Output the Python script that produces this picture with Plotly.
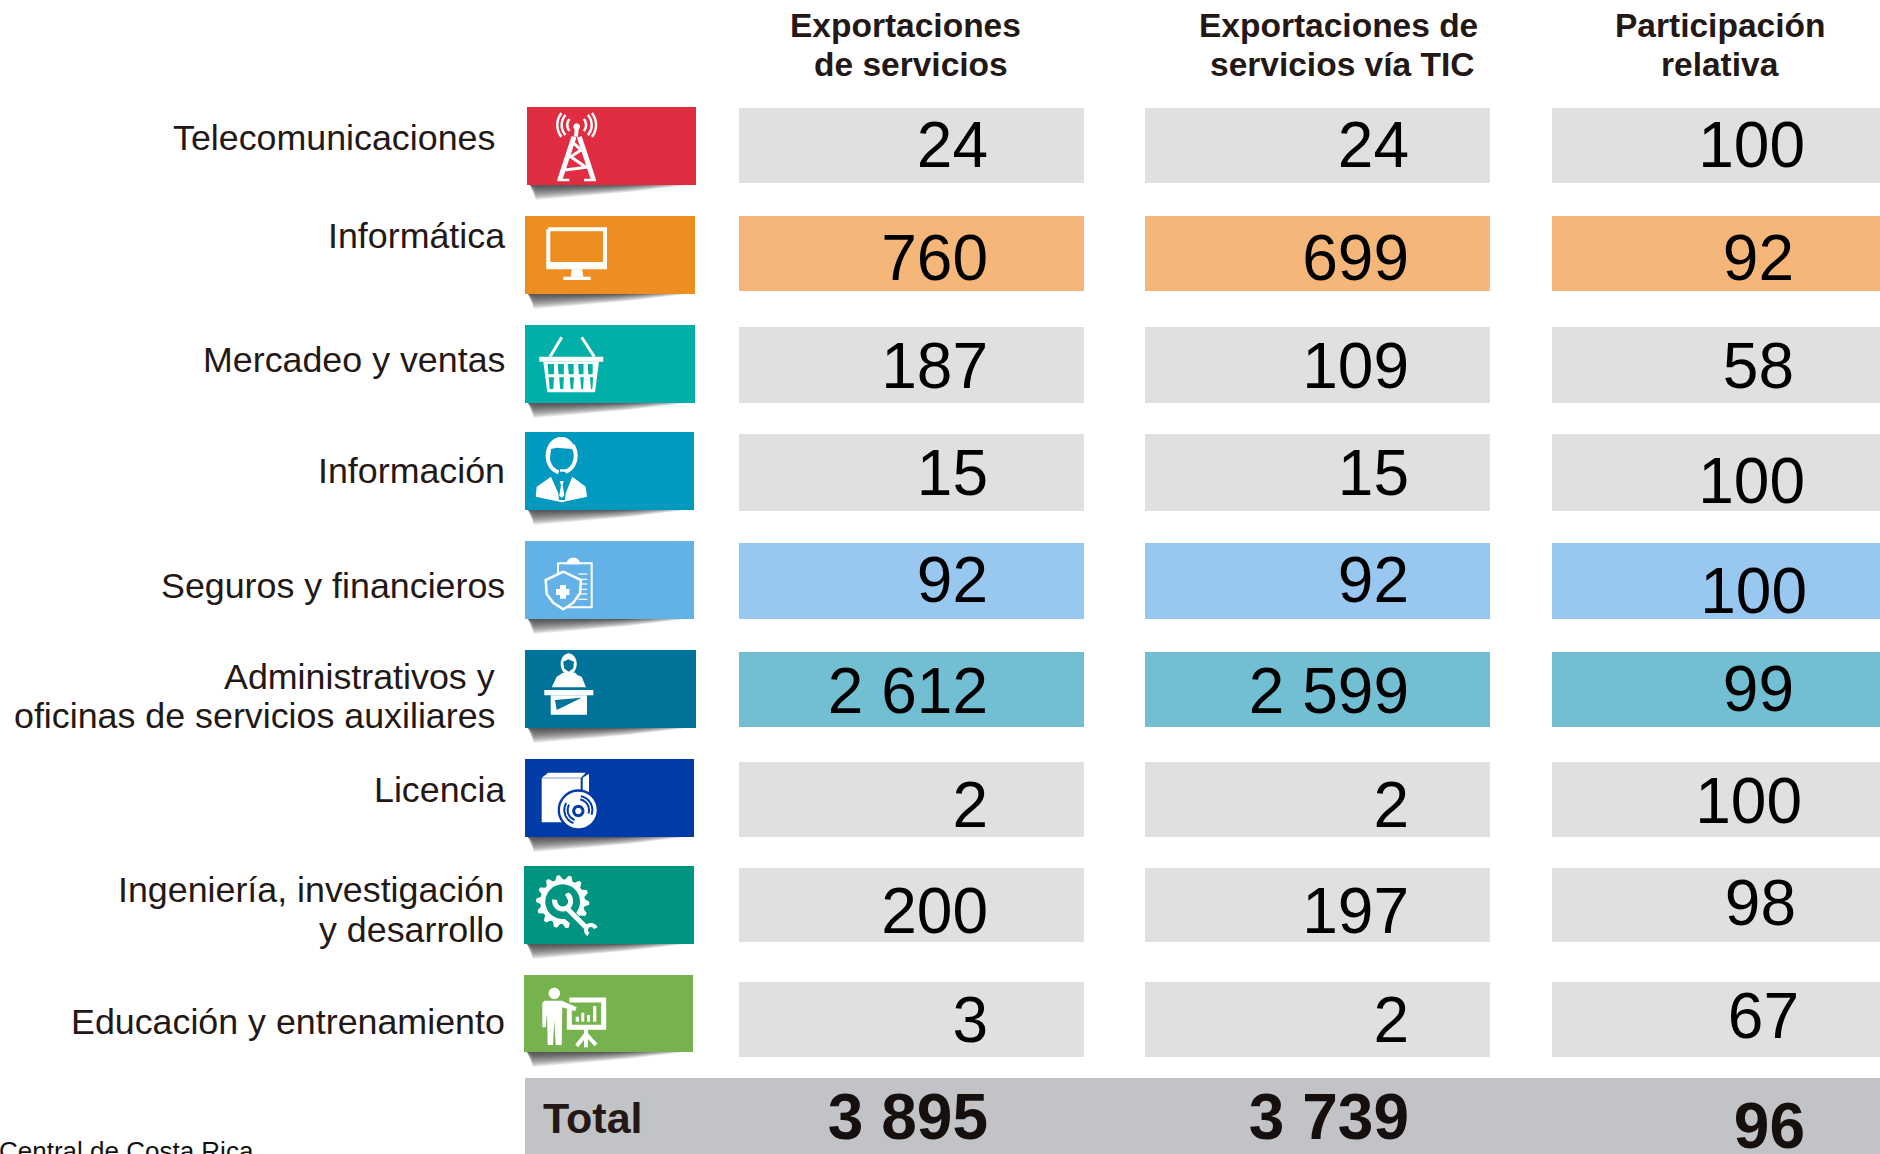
import math
import plotly.graph_objects as go

# ---------- data ----------
labels = ["Telecomunicaciones", "Informática", "Mercadeo y ventas", "Información",
          "Seguros y financieros", "Administrativos y<br>oficinas de servicios auxiliares",
          "Licencia", "Ingeniería, investigación<br>y desarrollo", "Educación y entrenamiento"]
exportaciones = [24, 760, 187, 15, 92, 2612, 2, 200, 3]
exportaciones_tic = [24, 699, 109, 15, 92, 2599, 2, 197, 2]
participacion = [100, 92, 58, 100, 100, 99, 100, 98, 67]
total_label = "Total"
totales = [3895, 3739, 96]
headers = ["Exportaciones<br>de servicios", "Exportaciones de<br>servicios vía TIC", "Participación<br>relativa"]
fuente = "Central de Costa Rica"

# ---------- layout / style ----------
W, H = 1880, 1154
icon_boxes = [(527,107,696,185),(525,216,695,294),(525,325,695,403),(525,432,694,510),(525,541,694,619),
              (525,650,696,728),(525,759,694,837),(524,866,694,944),(524,975,693,1052)]
icon_colors = ["#E12D42","#EE8E20","#00AFA8","#0099BF","#62B2E8","#00739A","#003BA6","#009580","#76B34F"]
cell_tops = [108,216,327,434,543,652,762,868,982]
cell_bots = [183,291,403,511,619,727,837,942,1057]
cols = [(739,1084),(1145,1490),(1552,1880)]
row_fill = ["#E0E0E0","#F5B679","#E0E0E0","#E0E0E0","#98C8F0","#72BED2","#E0E0E0","#E0E0E0","#E0E0E0"]
v_y = [[151,264,372,479,586,697,811,917,1026],
       [151,264,372,479,586,697,811,917,1026],
       [151,264,372,487,597,695,807,909,1022]]
v_x = [[988]*9, [1409]*9, [1805,1794,1794,1805,1807,1794,1802,1796,1799]]
lab_right = [497,507,507,507,507,497,496,506,507]
lab_right[6] = 507
lab_y = [138,236,360,471,586,697,790,908,1022]
lab_y2 = {5:[677,716], 7:[890,930]}
head_x = [(905,911),(1338,1342),(1720,1720)]
TXT = "#231815"

shapes, annots = [], []
def rect(x0,y0,x1,y1,c):
    shapes.append(dict(type="rect",x0=x0,y0=y0,x1=x1,y1=y1,fillcolor=c,line_width=0,layer="below"))
def path(d,fill=None,line=None,w=0):
    s=dict(type="path",path=d,layer="above")
    s["fillcolor"]=fill if fill else "rgba(0,0,0,0)"
    s["line"]=dict(color=line if line else "rgba(0,0,0,0)",width=w)
    shapes.append(s)

def Z(ox,oy):
    """zoom-crop coordinates -> page pixels"""
    return lambda x,y:(ox+x/3,oy+y/3)
def poly(z,pts,fill="#fff",close=True,line=None,w=0):
    p=[z(*q) for q in pts]
    d="M"+" L".join(f"{a:.1f},{b:.1f}" for a,b in p)+(" Z" if close else "")
    path(d,fill if close else None,line,w)
def arc(cx,cy,rx,ry,a0=0,a1=360,n=40):
    return [(cx+rx*math.cos(math.radians(a0+(a1-a0)*i/n)),cy+ry*math.sin(math.radians(a0+(a1-a0)*i/n))) for i in range(n+1)]
def stroke(z,pts,w=3,c="#fff"):
    poly(z,pts,close=False,line=c,w=w)

# ---------- cells ----------
for (x0,x1) in cols:
    for t,b,c in zip(cell_tops,cell_bots,row_fill):
        rect(x0,t,x1,b,c)
rect(525,1078,W,H,"#C2C3C7")

# ---------- shadows & icon tiles ----------
for (x0,y0,x1,y1),c in zip(icon_boxes,icon_colors):
    for k in range(15,0,-1):
        t=(15-k)/15
        end=x1-8-t*60
        shapes.append(dict(type="path",layer="below",line_width=0,fillcolor="rgba(30,30,30,0.085)",
            path=f"M{x0+3},{y1} L{end:.0f},{y1} L{x0+105-t*40:.0f},{y1+k*0.45:.1f} L{x0+9},{y1+k} Z"))
    rect(x0,y0,x1,y1,c)

# ---------- icons ----------
# 1 tower
z=Z(500,90)
for r,(a,b) in [(28,(-40,40)),(45,(-42,42)),(58,(-38,38))]:
    stroke(z,arc(230,105,r,r,a,b),2.5)
    stroke(z,arc(230,105,r,r,180-b,180-a),2.5)
poly(z,arc(230,110,10,10))
stroke(z,[(230,115),(228,140)],4)
stroke(z,[(222,140),(180,268)],5); stroke(z,[(238,140),(280,268)],5)
stroke(z,[(222,160),(243,180),(212,200),(258,232),(196,240)],3)
stroke(z,[(172,270),(208,270)],2.5); stroke(z,[(252,270),(288,270)],2.5)
# 2 monitor
stroke(z,[(145,418),(315,418),(315,530),(145,530),(145,418)],4)
poly(z,[(140,516),(320,516),(320,538),(140,538)])
poly(z,[(215,538),(247,538),(250,560),(212,560)])
poly(z,[(190,560),(272,560),(272,570),(190,570)])
# 3 basket
stroke(z,[(185,742),(150,800)],3); stroke(z,[(245,742),(283,800)],3)
poly(z,[(118,800),(310,800),(310,815),(118,815)])
poly(z,[(130,815),(297,815),(285,907),(142,907)],fill="#fff")
teal="#00AFA8"
for i,xx in enumerate([150,180,210,240,268]):
    poly(z,[(xx-7+i*0.5,822),(xx+12-i*0.5,822),(xx+12-i*0.5,853),(xx-5+i*0.5,853)],fill=teal)
    poly(z,[(xx-4+i*1.5,862),(xx+12-i*0.2,862),(xx+10-i*0.2,897),(xx-1+i*1.5,897)],fill=teal)
# 4 agent
z=Z(515,425)
poly(z,[(62,215),(65,185),(108,155),(130,205),(132,225),(150,225),(152,205),(172,155),(212,185),(216,215),(140,232)])
poly(z,[(134,168),(146,168),(143,180),(148,212),(140,218),(133,212),(138,180)])
poly(z,arc(140,88,42,52,180,360)+[(170,72),(125,68),(108,72),(104,110)])
stroke(z,arc(138,92,40,50,100,300),4)
stroke(z,arc(140,92,42,50,-40,75),4)
poly(z,[(135,133),(160,133),(160,140),(135,140)])
# 5 shield
z=Z(500,520)
stroke(z,[(174,165),(174,130),(275,130),(275,262),(200,262)],2)
poly(z,arc(220,130,20,17,180,360)+[(245,133),(195,133)])
for yy in [162,178,192,208,222,238]:
    stroke(z,[(235,yy),(262,yy)],1.2)
poly(z,[(190,155),(243,180),(240,220),(220,248),(190,268),(160,248),(140,222),(137,180)],fill="#62B2E8")
stroke(z,[(190,155),(243,180),(240,220),(220,248),(190,268),(160,248),(140,222),(137,180),(190,155)],2.5)
poly(z,[(180,195),(198,195),(198,207),(208,207),(208,225),(198,225),(198,236),(180,236),(180,225),(168,225),(168,207),(180,207)])
# 6 receptionist
poly(z,arc(206,432,24,32))
poly(z,[(190,425),(205,418),(222,425),(220,445),(206,455),(192,445)],fill="#00739A")
poly(z,[(188,458),(226,458),(232,465),(245,470),(258,502),(155,502),(170,470),(182,463)])
poly(z,[(133,510),(280,510),(280,526),(133,526)])
poly(z,[(152,526),(261,526),(261,584),(152,584)])
poly(z,[(165,540),(245,533),(170,570)],fill="#00739A")
# 7 licence box
z=Z(515,755)
poly(z,[(80,68),(100,53),(212,53),(198,68)])
poly(z,[(80,70),(197,70),(197,202),(80,202)])
poly(z,[(203,68),(222,56),(222,135),(203,135)])
poly(z,arc(190,165,62,62),fill="#003BA6")
poly(z,arc(190,165,55,55))
for r,(a,b) in [(42,(-80,20)),(32,(-80,20)),(42,(110,210)),(32,(110,210))]:
    stroke(z,arc(190,165,r,r,a,b),2,"#003BA6")
stroke(z,arc(190,168,14,14),3,"#003BA6")
# 8 gear / wrench
g=[]
nt=14
for i in range(nt*4):
    a=2*math.pi*i/(nt*4)
    r=80 if i%4 in (0,1) else 67
    g.append((143+r*math.cos(a),440+r*math.sin(a)))
poly(z,g)
poly(z,arc(143,440,52,52),fill="#009580")
poly(z,[(158,462),(205,510),(198,520),(150,478)],fill="#009580",line="#009580",w=7)
stroke(z,[(158,462),(212,516)],5)
stroke(z,arc(143,438,24,24,-50,190),5)
stroke(z,[(155,415),(167,438)],4)
stroke(z,arc(228,525,15,15,120,340),4)
# 9 presenter
z=Z(515,970)
poly(z,arc(118,70,17,17))
poly(z,[(88,92),(140,92),(185,112),(180,124),(142,112),(140,225),(122,225),(118,150),(114,225),(98,225),(96,130),(92,172),(82,172),(82,100)])
stroke(z,[(163,90),(266,90),(266,172),(163,172),(163,118)],5)
poly(z,[(182,140),(192,140),(192,155),(182,155)])
poly(z,[(199,128),(208,128),(208,155),(199,155)])
poly(z,[(216,135),(225,135),(225,155),(216,155)])
poly(z,[(234,108),(244,108),(244,155),(234,155)])
stroke(z,[(213,172),(213,232)],4)
stroke(z,[(213,192),(185,228)],4); stroke(z,[(213,192),(243,225)],4)

# ---------- text ----------
def note(x,y,t,size,anchor="right",bold=False,color=TXT,xshift=0):
    annots.append(dict(x=x,y=y,xref="x",yref="y",text=f"<b>{t}</b>" if bold else t,showarrow=False,xshift=xshift,
        xanchor=anchor,yanchor="middle",align=anchor,font=dict(family="Liberation Sans",size=size,color=color)))

for i,l in enumerate(labels):
    if i in lab_y2:
        for part,yy in zip(l.split("<br>"),lab_y2[i]):
            note(lab_right[i],yy,part,35.8)
    else:
        note(lab_right[i],lab_y[i],l,35.8)

for t,xs in zip(headers,head_x):
    for part,yy,x in zip(t.split("<br>"),[25,64],xs):
        note(x,yy,part,33.5,"center",True)

fmt=lambda v:f"{v:,}".replace(","," ")
traces=[]
for series,xs,ys in zip([exportaciones,exportaciones_tic,participacion],v_x,v_y):
    traces.append(go.Scatter(x=xs,y=ys,text=[fmt(v) for v in series],mode="text",textposition="middle left",
        textfont=dict(family="Liberation Sans",size=64,color="#000"),hoverinfo="skip",showlegend=False,cliponaxis=False))
traces.append(go.Scatter(x=[988,1409,1805],y=[1123,1123,1132],text=[f"<b>{fmt(v)}</b>" for v in totales],mode="text",
    textposition="middle left",textfont=dict(family="Liberation Sans",size=64,color="#15100E"),
    hoverinfo="skip",showlegend=False,cliponaxis=False))
note(541,1118,total_label,43,"left",True)
note(0,1151,fuente,26,"left",False,"#111",xshift=-3)

fig=go.Figure(traces)
fig.update_layout(width=W,height=H,margin=dict(l=0,r=0,t=0,b=0),paper_bgcolor="#fff",plot_bgcolor="#fff",
    shapes=shapes,annotations=annots,showlegend=False,
    xaxis=dict(range=[0,W],visible=False,fixedrange=True),
    yaxis=dict(range=[H,0],visible=False,fixedrange=True))
fig.write_html("out.html",config=dict(displayModeBar=False),
    post_script="document.body.style.margin='0';document.body.style.overflow='hidden';")
